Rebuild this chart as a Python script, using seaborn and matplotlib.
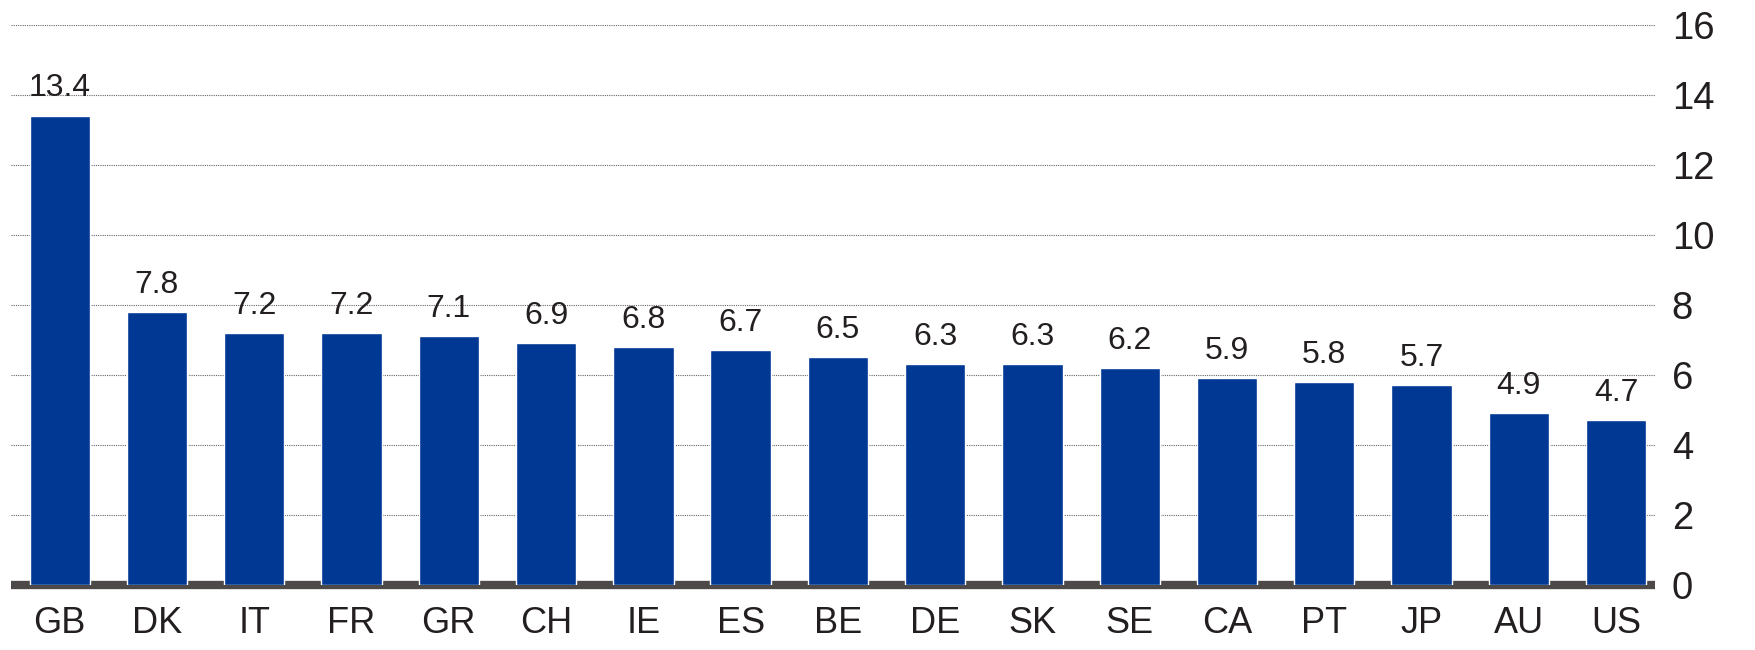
import pandas as pd
import matplotlib
matplotlib.use("Agg")
import matplotlib.pyplot as plt
import seaborn as sns

# Data
countries = ["GB", "DK", "IT", "FR", "GR", "CH", "IE", "ES", "BE",
             "DE", "SK", "SE", "CA", "PT", "JP", "AU", "US"]
values = [13.4, 7.8, 7.2, 7.2, 7.1, 6.9, 6.8, 6.7, 6.5,
          6.3, 6.3, 6.2, 5.9, 5.8, 5.7, 4.9, 4.7]
yticks = [0, 2, 4, 6, 8, 10, 12, 14, 16]

df = pd.DataFrame({"country": countries, "value": values})

sns.set_style("white")
plt.rcParams["font.family"] = ["Liberation Sans", "DejaVu Sans"]

fig = plt.figure(figsize=(17.56, 6.5), dpi=100)
ax = fig.add_axes([0.0063, 0.1, 0.9362, 0.862])

sns.barplot(data=df, x="country", y="value", color="#003893",
            saturation=1, width=0.62, ax=ax, zorder=3)

for i, v in enumerate(values):
    ax.text(i, v + 0.35, f"{v:.1f}", ha="center", va="bottom",
            fontsize=23, color="#231f20")

ax.set_ylim(0, 16)
ax.set_xlim(-0.5, len(countries) - 0.6)
ax.set_yticks(yticks)
ax.yaxis.tick_right()
ax.tick_params(axis="y", length=0, pad=12, labelsize=27.5, colors="#231f20")
ax.tick_params(axis="x", length=0, pad=15, labelsize=26, colors="#231f20")
ax.grid(axis="y", linestyle=(0, (1, 1)), color="#666666", linewidth=0.8, zorder=0)
ax.set_xlabel("")
ax.set_ylabel("")

for s in ["top", "left", "right"]:
    ax.spines[s].set_visible(False)
ax.spines["bottom"].set_color("#4d4949")
ax.spines["bottom"].set_linewidth(6)
ax.spines["bottom"].set_capstyle("butt")
ax.spines["bottom"].set_zorder(2)

fig.savefig("out.png", dpi=100)
